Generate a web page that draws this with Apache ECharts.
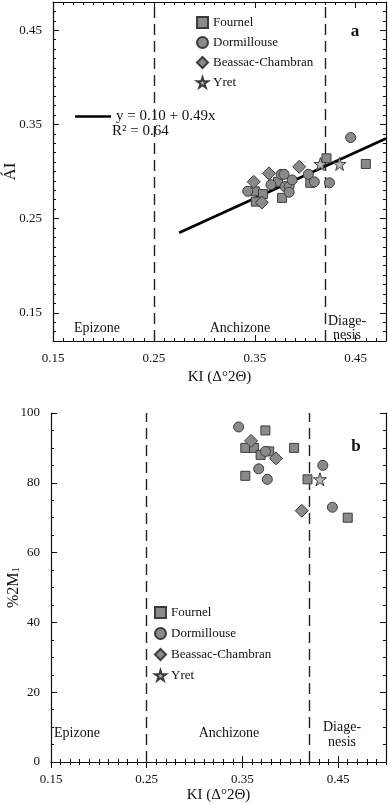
<!DOCTYPE html>
<html>
<head>
<meta charset="utf-8">
<script src="https://cdn.jsdelivr.net/npm/echarts@6/dist/echarts.min.js"></script>
<style>
  html, body { margin: 0; padding: 0; background: #fff; }
  #chart { width: 388px; height: 805px; }
</style>
</head>
<body>
<div id="chart"></div>
<script>
// tick labels / zones
const KI_LABELS = [0.15, 0.25, 0.35, 0.45];
const AI_LABELS = [0.15, 0.25, 0.35, 0.45];
const M1_LABELS = [0, 20, 40, 60, 80, 100];
const ZONE_BOUNDS = [0.25, 0.42];
const SERIES_NAMES = ["Fournel", "Dormillouse", "Beassac-Chambran", "Yret"];

// panel a: [KI, AI]
const aFournel = [[0.350, 0.279], [0.358, 0.276], [0.351, 0.268], [0.373, 0.289],
  [0.377, 0.272], [0.405, 0.288], [0.421, 0.314], [0.460, 0.308]];
const aDormillouse = [[0.343, 0.279], [0.366, 0.286], [0.376, 0.297], [0.379, 0.297],
  [0.380, 0.284], [0.384, 0.284], [0.384, 0.278], [0.387, 0.291], [0.403, 0.297],
  [0.409, 0.289], [0.424, 0.288], [0.445, 0.336]];
const aBeassac = [[0.349, 0.289], [0.364, 0.298], [0.394, 0.305], [0.357, 0.267]];
const aYret = [[0.415, 0.308], [0.434, 0.308]];

// regression line y = 0.10 + 0.49x, endpoints
const fitKI = [0.275, 0.48];
const fitAI = [0.235, 0.335];

// panel b: [KI, %2M1]
const bFournel = [[0.353, 90], [0.362, 90], [0.374, 95], [0.369, 88], [0.353, 82],
  [0.378, 89], [0.404, 90], [0.418, 81], [0.460, 70]];
const bDormillouse = [[0.346, 96], [0.367, 84], [0.376, 81], [0.374, 89], [0.434, 85], [0.444, 73]];
const bBeassac = [[0.359, 92], [0.385, 87], [0.412, 72]];
const bYret = [[0.431, 81]];

const FONT = "Liberation Serif";
const STAR = "path://M50,0 L61,35 L98,35 L68,57 L79,91 L50,70 L21,91 L32,57 L2,35 L39,35 Z";
const MARKERS = {
  "Fournel": { symbol: "rect", size: 9, color: "#8a8a8a" },
  "Dormillouse": { symbol: "circle", size: 10, color: "#8a8a8a" },
  "Beassac-Chambran": { symbol: "diamond", size: 13, color: "#8a8a8a" },
  "Yret": { symbol: STAR, size: 13, color: "#b8b8b8" },
};

// one side of a panel = a minor-tick axis plus an overlay for the long major ticks
function sideAxes(grid, pos, min, max, step, majors, fmt, name, nameGap) {
  const base = { gridIndex: grid, position: pos, type: "value", min, max, splitLine: { show: false } };
  const main = Object.assign({}, base, {
    interval: step,
    axisLine: { show: true, lineStyle: { color: "#111", width: 1.2 } },
    axisTick: { show: true, inside: true, length: 3, lineStyle: { color: "#111" } },
    axisLabel: fmt ? {
      show: true, customValues: majors, formatter: fmt, margin: 11,
      color: "#111", fontFamily: FONT, fontSize: 13,
    } : { show: false },
  });
  if (name) {
    main.name = name.text;
    main.nameLocation = "middle";
    main.nameGap = nameGap;
    main.nameMoveOverlap = false;
    main.nameRotate = name.rotate || 0;
    main.nameTextStyle = Object.assign({ color: "#111", fontFamily: FONT, fontSize: 15 }, name.style || {});
  }
  const major = Object.assign({}, base, {
    interval: step,
    axisLine: { show: false },
    axisLabel: { show: false },
    axisTick: { show: true, inside: true, length: 6, customValues: majors, lineStyle: { color: "#111" } },
  });
  return [main, major];
}

const xAxes = [
  ...sideAxes(0, "bottom", 0.15, 0.48, 0.01, KI_LABELS, v => v.toFixed(2), { text: "KI (Δ°2Θ)" }, 29),
  ...sideAxes(0, "top", 0.15, 0.48, 0.01, KI_LABELS, null),
  ...sideAxes(1, "bottom", 0.15, 0.50, 0.01, KI_LABELS, v => v.toFixed(2), { text: "KI (Δ°2Θ)" }, 26),
  ...sideAxes(1, "top", 0.15, 0.50, 0.01, KI_LABELS, null),
];
const yAxes = [
  ...sideAxes(0, "left", 0.12, 0.48, 0.01, AI_LABELS, v => v.toFixed(2), { text: "ÁI", rotate: 90, style: { fontSize: 17 } }, 34),
  ...sideAxes(0, "right", 0.12, 0.48, 0.01, AI_LABELS, null),
  ...sideAxes(1, "left", 0, 100, 5, M1_LABELS, v => String(v),
    { text: "%2M{s|1}", rotate: 90, style: { fontSize: 16, rich: { s: { fontFamily: FONT, fontSize: 11, verticalAlign: "bottom", padding: [6, 0, 0, 0] } } } }, 29),
  ...sideAxes(1, "right", 0, 100, 5, M1_LABELS, null),
];

function scatter(name, data, xi, yi) {
  const m = MARKERS[name];
  return {
    name, type: "scatter", data, xAxisIndex: xi, yAxisIndex: yi,
    symbol: m.symbol, symbolSize: m.size, z: 5,
    itemStyle: { color: m.color, borderColor: "#3c3c3c", borderWidth: 1, opacity: 1 },
    emphasis: { disabled: true },
  };
}

function zoneLines(xi, yi) {
  return {
    type: "line", data: [], xAxisIndex: xi, yAxisIndex: yi, silent: true,
    markLine: {
      silent: true, symbol: ["none", "none"], label: { show: false },
      lineStyle: { color: "#222", width: 1.4, type: [11, 6] },
      data: ZONE_BOUNDS.map(v => ({ xAxis: v })),
    },
  };
}

const FIT_NAME = "y = 0.10 + 0.49x";

const series = [
  zoneLines(0, 0),
  {
    name: FIT_NAME, type: "line", xAxisIndex: 0, yAxisIndex: 0,
    data: fitKI.map((x, i) => [x, fitAI[i]]),
    showSymbol: false, itemStyle: { color: "#000" }, lineStyle: { color: "#000", width: 2.6 }, z: 4,
  },
  scatter("Fournel", aFournel, 0, 0),
  scatter("Dormillouse", aDormillouse, 0, 0),
  scatter("Beassac-Chambran", aBeassac, 0, 0),
  scatter("Yret", aYret, 0, 0),
  zoneLines(4, 4),
  scatter("Fournel", bFournel, 4, 4),
  scatter("Dormillouse", bDormillouse, 4, 4),
  scatter("Beassac-Chambran", bBeassac, 4, 4),
  scatter("Yret", bYret, 4, 4),
];

const legendText = { color: "#111", fontFamily: FONT, fontSize: 13 };

function txt(text, x, y, extra) {
  return {
    type: "text", x, y, silent: true,
    style: Object.assign({
      text, fill: "#111", font: "14px " + FONT, textAlign: "center", textVerticalAlign: "middle",
    }, extra || {}),
  };
}

const chart = echarts.init(document.getElementById("chart"), null, { renderer: "canvas" });
chart.setOption({
  animation: false,
  backgroundColor: "#fff",
  grid: [
    { left: 53, right: 2, top: 2, height: 339, containLabel: false, outerBoundsMode: "none" },
    { left: 51, right: 2, top: 413, height: 349, containLabel: false, outerBoundsMode: "none" },
  ],
  xAxis: xAxes,
  yAxis: yAxes,
  legend: [
    { data: SERIES_NAMES, orient: "vertical", left: 191, top: 11, itemWidth: 11, itemHeight: 11,
      itemGap: 7, textStyle: legendText, selectedMode: false },
    { data: SERIES_NAMES, orient: "vertical", left: 149, top: 601, itemWidth: 11, itemHeight: 11,
      itemGap: 8, textStyle: legendText, selectedMode: false },
    { data: [{ name: FIT_NAME, icon: "rect" }], left: 70, top: 104, itemWidth: 36, itemHeight: 2.6,
      textStyle: Object.assign({}, legendText, { fontSize: 15 }), selectedMode: false },
  ],
  graphic: [
    txt("a", 355, 32, { font: "bold 17px " + FONT }),
    txt("R² = 0.64", 112, 131, { textAlign: "left", font: "15px " + FONT }),
    txt("Epizone", 97, 328),
    txt("Anchizone", 240, 328),
    txt("Diage-\nnesis", 347, 328, { lineHeight: 14 }),
    txt("b", 356, 447, { font: "bold 17px " + FONT }),
    txt("Epizone", 54, 733, { textAlign: "left" }),
    txt("Anchizone", 229, 733),
    txt("Diage-\nnesis", 342, 735, { lineHeight: 15 }),
  ],
  series,
});
</script>
</body>
</html>
